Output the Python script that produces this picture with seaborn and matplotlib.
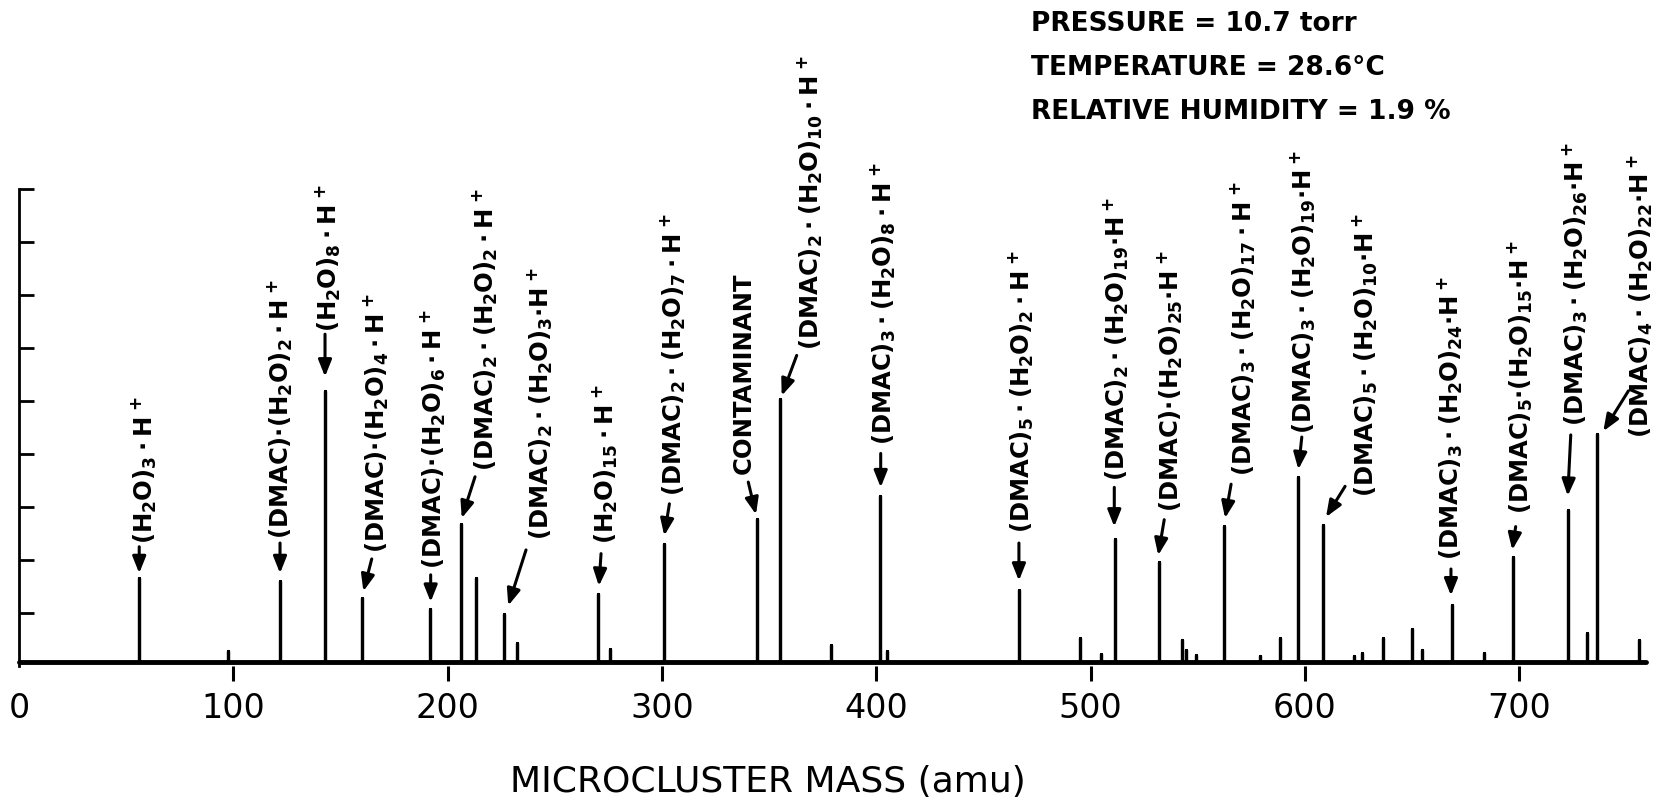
import matplotlib
matplotlib.use('Agg')
import matplotlib.pyplot as plt
import seaborn as sns
import pandas as pd

sns.set_style('white')
plt.rcParams['font.family'] = 'DejaVu Sans'
plt.rcParams['mathtext.fontset'] = 'custom'
plt.rcParams['mathtext.rm'] = 'DejaVu Sans:bold'
plt.rcParams['mathtext.it'] = 'DejaVu Sans:bold'
plt.rcParams['mathtext.bf'] = 'DejaVu Sans:bold'
plt.rcParams['text.color'] = 'black'
plt.rcParams['axes.labelcolor'] = 'black'
plt.rcParams['xtick.color'] = 'black'
plt.rcParams['ytick.color'] = 'black'
plt.rcParams['axes.edgecolor'] = 'black'

# peaks: mass (amu) and height (arbitrary units, 1 = one tick)
peak_mass = [56.1, 121.8, 142.8, 160.0, 192.0, 206.2, 213.1, 226.3, 270.3, 301.0,
             344.5, 355.1, 401.8, 466.6, 511.3, 532.0, 562.4, 596.8, 608.5, 668.7,
             697.0, 722.7, 736.5]
peak_height = [1.66, 1.60, 5.19, 1.28, 1.07, 2.68, 1.66, 0.99, 1.35, 2.31,
               2.78, 5.03, 3.20, 1.43, 2.40, 1.96, 2.64, 3.57, 2.66, 1.15,
               2.06, 2.95, 4.37]

small_mass = [97.4, 232.2, 275.9, 379.0, 405.0, 495.1, 504.7, 542.8, 544.5, 549.2,
              578.9, 588.4, 622.9, 626.5, 636.3, 649.9, 654.8, 683.8, 731.7, 756.1]
small_height = [0.28, 0.44, 0.33, 0.40, 0.28, 0.53, 0.22, 0.50, 0.30, 0.21,
                0.18, 0.53, 0.18, 0.25, 0.52, 0.69, 0.31, 0.25, 0.63, 0.50]

baseline_level = 0.08
mass_start, mass_end = 0, 759

labels = [
    r'$(H_2O)_3\cdot H^+$',
    r'$(DMAC){\cdot}(H_2O)_2\cdot H^+$',
    r'$(H_2O)_8\cdot H^+$',
    r'$(DMAC){\cdot}(H_2O)_4\cdot H^+$',
    r'$(DMAC){\cdot}(H_2O)_6\cdot H^+$',
    r'$(DMAC)_2\cdot(H_2O)_2\cdot H^+$',
    r'$(DMAC)_2\cdot(H_2O)_3{\cdot}H^+$',
    r'$(H_2O)_{15}\cdot H^+$',
    r'$(DMAC)_2\cdot(H_2O)_7\cdot H^+$',
    'CONTAMINANT',
    r'$(DMAC)_2\cdot(H_2O)_{10}\cdot H^+$',
    r'$(DMAC)_3\cdot(H_2O)_8\cdot H^+$',
    r'$(DMAC)_5\cdot(H_2O)_2\cdot H^+$',
    r'$(DMAC)_2\cdot(H_2O)_{19}{\cdot}H^+$',
    r'$(DMAC){\cdot}(H_2O)_{25}{\cdot}H^+$',
    r'$(DMAC)_3\cdot(H_2O)_{17}\cdot H^+$',
    r'$(DMAC)_3\cdot(H_2O)_{19}{\cdot}H^+$',
    r'$(DMAC)_5\cdot(H_2O)_{10}{\cdot}H^+$',
    r'$(DMAC)_3\cdot(H_2O)_{24}{\cdot}H^+$',
    r'$(DMAC)_5{\cdot}(H_2O)_{15}{\cdot}H^+$',
    r'$(DMAC)_3\cdot(H_2O)_{26}{\cdot}H^+$',
    r'$(DMAC)_4\cdot(H_2O)_{22}{\cdot}H^+$',
]
label_x = [58.3, 121.8, 144.2, 166.9, 193.3, 217.5, 243.1, 273.5, 305.3, 338.0, 369.1,
           403.2, 467.9, 512.2, 537.1, 571.3, 599.3, 628.1, 667.8, 700.4, 726.1, 756.4]
label_bottom = [2.32, 2.42, 6.33, 2.15, 1.85, 3.70, 2.39, 2.32, 3.23, 3.64, 5.98,
                4.18, 2.52, 3.50, 2.93, 3.60, 4.40, 3.21, 2.01, 2.88, 4.54, 4.32]
arrow_tail_x = [56.1, 121.8, 142.8, 164.6, 192.1, 212.8, 236.6, 271.6, 303.5, 340.3, 362.9,
                402.1, 466.6, 511.1, 534.4, 565.6, 598.6, 618.8, 668.2, 698.4, 724.1, 751.0]
arrow_tail_y = [2.25, 2.32, 6.26, 2.02, 1.72, 3.57, 2.19, 2.12, 3.06, 3.47, 5.86,
                4.01, 2.32, 3.37, 2.76, 3.43, 4.32, 3.39, 1.83, 2.63, 4.36, 5.19]
arrow_tip_x = [56.1, 121.8, 142.8, 160.7, 192.1, 206.6, 228.3, 270.6, 301.1, 343.9, 355.9,
               402.1, 466.6, 511.1, 531.6, 562.8, 597.0, 609.9, 668.2, 696.8, 722.7, 739.3]
arrow_tip_y = [1.75, 1.75, 5.46, 1.41, 1.21, 2.79, 1.14, 1.51, 2.46, 2.86, 5.10,
               3.37, 1.61, 2.63, 2.09, 2.79, 3.71, 2.81, 1.33, 2.19, 3.21, 4.43]

conditions = ['PRESSURE = 10.7 torr', 'TEMPERATURE = 28.6°C', 'RELATIVE HUMIDITY = 1.9 %']
x_ticks = [0, 100, 200, 300, 400, 500, 600, 700]

# stick spectrum as one continuous trace
sticks = sorted(zip(peak_mass + small_mass, peak_height + small_height))
xs, ys = [mass_start], [baseline_level]
for m, h in sticks:
    xs += [m, m, m]
    ys += [baseline_level, h, baseline_level]
xs.append(mass_end)
ys.append(baseline_level)
trace = pd.DataFrame({'mass': xs, 'signal': ys})

fig = plt.figure(figsize=(16.71, 8.03), dpi=100)
ax = fig.add_axes([0, 0, 1, 1])

sns.lineplot(data=trace, x='mass', y='signal', sort=False, estimator=None,
             color='black', lw=2.3, ax=ax)
ax.plot([mass_start, mass_end], [baseline_level, baseline_level], color='black', lw=3.5)

for s, lx, lb in zip(labels, label_x, label_bottom):
    ax.text(lx, lb, s, rotation=90, ha='center', va='bottom', fontsize=17.5,
            fontweight='bold', color='black')

for tx, ty, hx, hy in zip(arrow_tail_x, arrow_tail_y, arrow_tip_x, arrow_tip_y):
    ax.annotate('', xy=(hx, hy), xytext=(tx, ty),
                arrowprops=dict(arrowstyle='-|>,head_length=0.5,head_width=0.2',
                                color='black', lw=2.2, mutation_scale=20,
                                shrinkA=0, shrinkB=0))

for i, line in enumerate(conditions):
    fig.text(1031 / 1671, 1 - (24 + 44 * i) / 803, line, fontsize=19,
             fontweight='bold', va='center', ha='left', color='black')

ax.set_xlim(-19 / 2.143, (1671 - 19) / 2.143)
ax.set_ylim((667 - 803) / 53, 667 / 53)

for side in ['top', 'right']:
    ax.spines[side].set_visible(False)
ax.spines['left'].set_position(('data', 0))
ax.spines['left'].set_bounds(0, 9)
ax.spines['left'].set_linewidth(2)
ax.spines['bottom'].set_position(('data', 0))
ax.spines['bottom'].set_color('none')

ax.set_yticks(range(1, 10))
ax.tick_params(axis='y', direction='in', length=11, width=2, labelleft=False, left=True,
               color='black')
ax.set_xticks(x_ticks)
ax.set_xticklabels([str(t) for t in x_ticks])
ax.tick_params(axis='x', direction='out', length=11, width=2.2, pad=7, labelsize=24,
               bottom=True, color='black', labelcolor='black')
ax.xaxis.get_major_ticks()[0].tick1line.set_visible(False)

ax.set_xlabel('MICROCLUSTER MASS (amu)', fontsize=26, color='black')
ax.xaxis.set_label_coords(768 / 1671, 1 - 792 / 803)
ax.xaxis.label.set_va('baseline')
ax.set_ylabel('')

fig.savefig('out.png', dpi=100)
